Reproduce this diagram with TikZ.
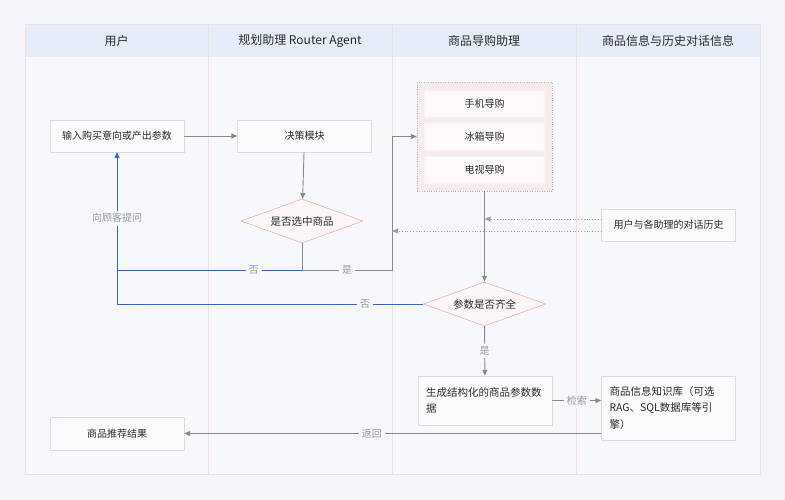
\documentclass[tikz,border=0pt]{standalone}
\usepackage{fontspec}
\setmainfont{Noto Sans CJK SC}
\usetikzlibrary{arrows.meta,shapes.geometric,positioning}
\definecolor{pagebg}{HTML}{F3F5F9}
\definecolor{bodybg}{HTML}{F6F8FC}
\definecolor{headbg}{HTML}{E6EDF8}
\definecolor{laneline}{HTML}{EEDFE0}
\definecolor{boxline}{HTML}{DCDCDE}
\definecolor{boxfill}{HTML}{FAFBFC}
\definecolor{pinkline}{HTML}{E39A9A}
\definecolor{pinkfill}{HTML}{FCF6F6}
\definecolor{guidefill}{HTML}{F6ECEC}
\definecolor{flowgrey}{HTML}{8A8A8C}
\definecolor{askblue}{HTML}{3369C6}
\definecolor{lblgrey}{HTML}{9A9A9C}
\definecolor{inkdark}{HTML}{2A2A2C}
\begin{document}
\begin{tikzpicture}[x=1pt, y=-1pt, font=\fontsize{10}{14}\selectfont, text=inkdark,
    lanetitle/.style = {font=\fontsize{12}{14}\selectfont, text=inkdark},
    box/.style = {draw=boxline, fill=boxfill, minimum width=134pt, minimum height=32pt, inner sep=4pt},
    choice/.style = {diamond, draw=pinkline, fill=pinkfill, aspect=2.75, inner sep=0pt,
        minimum width=122pt, minimum height=44pt, font=\fontsize{10.5}{14}\selectfont},
    groupbox/.style = {draw=flowgrey!60, dotted, fill=guidefill, minimum width=135pt, minimum height=109pt},
    guidebox/.style = {draw=guidefill!80!pinkline!40, fill=pinkfill!50!white, minimum width=120pt, minimum height=27pt},
    flow/.style = {draw=flowgrey, line width=0.9pt, -{Triangle[length=6pt,width=5pt]}},
    plain/.style = {draw=flowgrey, line width=0.9pt},
    histflow/.style = {draw=flowgrey!80, line width=0.8pt, dotted, -{Triangle[length=6pt,width=5pt]}},
    ask/.style = {draw=askblue, line width=0.9pt},
    lbl/.style = {fill=bodybg, text=lblgrey, inner sep=3pt}]
    % lanes
    \useasboundingbox (0,0) rectangle (785,500);
    \fill[pagebg] (0,0) rectangle (785,500);
    \fill[bodybg] (25,57) rectangle (760,474);
    \fill[headbg] (25,24) rectangle (760,57);
    \draw[laneline] (25,24) rectangle (760,474);
    \foreach \x in {208,392,576} \draw[laneline] (\x,24) -- (\x,474);
    \node[lanetitle] (userlane) at (116.5,41) {用户};
    \node[lanetitle] (routerlane) at (300,41) {规划助理 Router Agent};
    \node[lanetitle] (guidelane) at (484,41) {商品导购助理};
    \node[lanetitle] (infolane) at (668,41) {商品信息与历史对话信息};
    % nodes
    \node[box] (input) at (117,136) {输入购买意向或产出参数};
    \node[box] (decide) at (304.5,136) {决策模块};
    \node[choice] (pick) at (302,221) {是否选中商品};
    \node[groupbox] (guide) at (484.5,136.5) {};
    \node[guidebox] (phone) at (484.5,104) {手机导购};
    \node[guidebox] (fridge) at (484.5,137) {冰箱导购};
    \node[guidebox] (tv) at (484.5,170) {电视导购};
    \node[box] (history) at (668.5,225) {用户与各助理的对话历史};
    \node[choice] (full) at (484.5,304) {参数是否齐全};
    \node[box, minimum height=49pt, text width=118pt, inner sep=8pt, align=left,
        font=\fontsize{10.5}{16}\selectfont] (spec) at (485,400.5) {生成结构化的商品参数数\\据};
    \node[box, minimum height=64pt, text width=118pt, inner sep=8pt, align=left,
        font=\fontsize{10.5}{16.5}\selectfont] (kb) at (668.5,408) {商品信息知识库（可选\\RAG、SQL数据库等引\\擎）};
    \node[box, minimum height=33pt] (result) at (117,433.5) {商品推荐结果};
    % turning points
    \coordinate (split) at (302,270);
    \coordinate (yesturn) at (392,270);
    \coordinate (askturn) at (117,270);
    \coordinate (noturn) at (117,304);
    \coordinate (h1) at (484.5,219);
    \coordinate (h2) at (392,231);
    % connectors
    \draw[flow] (input) -- (decide);
    \draw[flow] (decide) -- (pick);
    \draw[plain] (pick) -- (split);
    \draw[flow] (split) -- node[lbl] {是} (yesturn) |- (guide.west);
    \draw[ask] (split) -- node[lbl, pos=0.26] {否} (askturn);
    \draw[ask] (full) -- node[lbl, pos=0.19] {否} (noturn) -- (askturn);
    \draw[ask, -{Triangle[length=6pt,width=5pt]}, askblue] (askturn) -- node[lbl, pos=0.44] {向顾客提问} (input);
    \draw[flow] (guide) -- (full);
    \draw[histflow] (history.west |- h1) -- (h1);
    \draw[histflow] (history.west |- h2) -- (h2);
    \draw[flow] (full) -- node[lbl] {是} (spec);
    \draw[flow] (spec.east) -- node[lbl] {检索} (spec.east -| kb.west);
    \draw[flow] (kb.west |- result) -- node[lbl, pos=0.55] {返回} (result.east);
\end{tikzpicture}
\end{document}
